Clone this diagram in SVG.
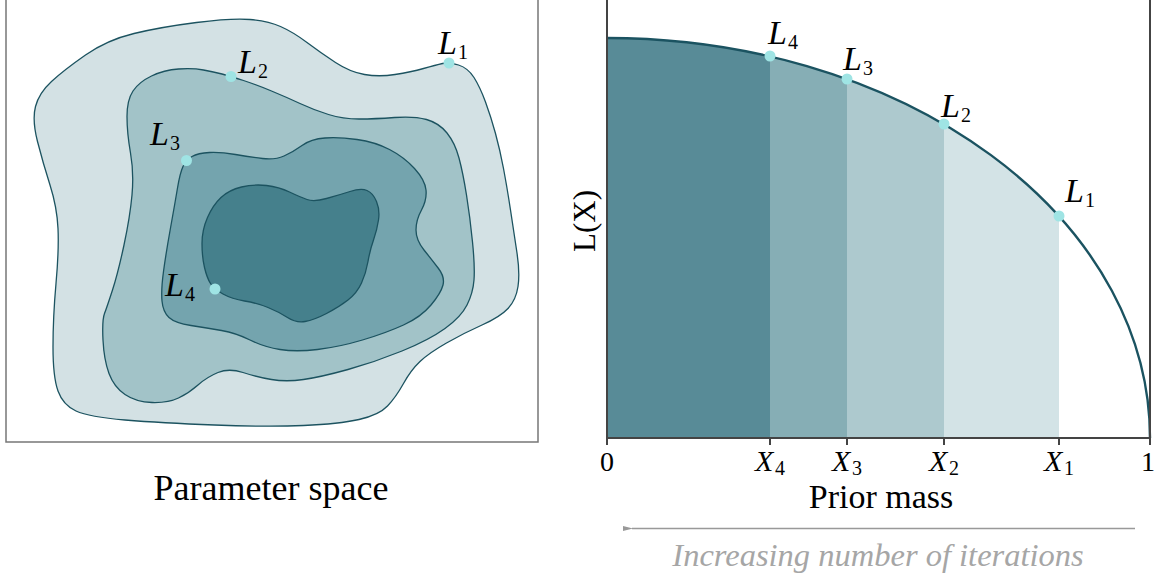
<svg xmlns="http://www.w3.org/2000/svg" width="1161" height="580" viewBox="0 0 1161 580">
<style>
.contour{stroke:#1c5360;stroke-width:1.3}
.dot{fill:#9fe4e4}
.lab{font-family:"Liberation Serif",serif;font-style:italic;font-size:34px;fill:#000}
.sub{font-family:"Liberation Serif",serif;font-size:20px;fill:#000}
.tick{font-family:"Liberation Serif",serif;font-size:28px;fill:#000}
.tickI{font-family:"Liberation Serif",serif;font-style:italic;font-size:30px;fill:#000}
.tsub{font-family:"Liberation Serif",serif;font-size:20px;fill:#000}
.title{font-family:"Liberation Serif",serif;font-size:34px;fill:#000}
.axis{stroke:#444;stroke-width:2;fill:none}
</style>
<defs>
<clipPath id="under">
<path d="M607 438 L607 38 A543 400 0 0 1 1150 438 Z"/>
</clipPath>
<marker id="arr" viewBox="0 0 10 10" refX="1" refY="5" markerWidth="10" markerHeight="10" markerUnits="userSpaceOnUse" orient="auto">
<path d="M10 2.5 L0 5 L10 7.5 Z" fill="#999"/>
</marker>
</defs>

<g id="parameter-space">
<path d="M6 0 L6 442 L538 442 L538 0" fill="none" stroke="#777" stroke-width="1.5"/>
<path id="contour-L1" class="contour" fill="#d3e1e4" d="M442.5 63.5 Q449 62 458.5 65 Q468 68 474 77.5 Q480 87 485.5 102 Q491 117 495.5 133.5 Q500 150 503.5 168.5 Q507 187 510.5 210 Q514 233 517 253 Q520 273 518 286.5 Q516 300 508 308.5 Q500 317 482 325 Q464 333 446.5 343 Q429 353 420 361.5 Q411 370 403.5 383.5 Q396 397 387.5 406 Q379 415 359 419.5 Q339 424 303.5 425.5 Q268 427 214.5 425 Q161 423 125 420 Q89 417 76 411 Q63 405 58 391 Q53 377 53 347 Q53 317 56 283.5 Q59 250 58 228.5 Q57 207 50 185 Q43 163 37.5 141.5 Q32 120 35.5 106.5 Q39 93 51.5 81.5 Q64 70 85.5 55 Q107 40 134 33.5 Q161 27 196.5 22.5 Q232 18 250 19.5 Q268 21 280.5 26.5 Q293 32 307 42.5 Q321 53 335.5 62.5 Q350 72 364.5 74.5 Q379 77 395 74.5 Q411 72 423.5 68.5 Q436 65 442.5 63.5 Z"/>
<path id="contour-L2" class="contour" fill="#a2c3c8" d="M222 74 Q230 76 243.5 80.5 Q257 85 271.5 91 Q286 97 300 103.5 Q314 110 328.5 114.5 Q343 119 359 119 Q375 119 394.5 117.5 Q414 116 426.5 119.5 Q439 123 447 133 Q455 143 459 158 Q463 173 466.5 195 Q470 217 472.5 242 Q475 267 474 280 Q473 293 467 305 Q461 317 445 328.5 Q429 340 402 351 Q375 362 348 369.5 Q321 377 303.5 379.5 Q286 382 271.5 379.5 Q257 377 243 372.5 Q229 368 218 372.5 Q207 377 198 385 Q189 393 178.5 398 Q168 403 152 402.5 Q136 402 125 394.5 Q114 387 109 373.5 Q104 360 103 340 Q102 320 104.5 313.5 Q107 307 112.5 290 Q118 273 124 245 Q130 217 132 195 Q134 173 130.5 153 Q127 133 127 116.5 Q127 100 133 91 Q139 82 151.5 76 Q164 70 178.5 69 Q193 68 203.5 70 Q214 72 222 74 Z"/>
<path id="contour-L3" class="contour" fill="#74a4ae" d="M183 166.5 Q186 160 192 156.5 Q198 153 209.5 152.5 Q221 152 235.5 154.5 Q250 157 262.5 158.5 Q275 160 284 156 Q293 152 302 145.5 Q311 139 325 138 Q339 137 357 139.5 Q375 142 389.5 149.5 Q404 157 414.5 168.5 Q425 180 426 190 Q427 200 421.5 210 Q416 220 416 230 Q416 240 424 250 Q432 260 438.5 268.5 Q445 277 443 285 Q441 293 431 305 Q421 317 403.5 325 Q386 333 362.5 340 Q339 347 317.5 349.5 Q296 352 280 349.5 Q264 347 250 340 Q236 333 221.5 330.5 Q207 328 191 325.5 Q175 323 169 317.5 Q163 312 162 301 Q161 290 163.5 271.5 Q166 253 170.5 228 Q175 203 177.5 188 Q180 173 183 166.5 Z"/>
<path id="contour-L4" class="contour" fill="#45808c" d="M210.5 283.5 Q214 289 223 294 Q232 299 244.5 301 Q257 303 268 307.5 Q279 312 287.5 317.5 Q296 323 305 321.5 Q314 320 326.5 313.5 Q339 307 348 300 Q357 293 361.5 283 Q366 273 368 261.5 Q370 250 373.5 240 Q377 230 378.5 220 Q380 210 376.5 201.5 Q373 193 367 190.5 Q361 188 350 191.5 Q339 195 326.5 198.5 Q314 202 307 199.5 Q300 197 289.5 192 Q279 187 266.5 185.5 Q254 184 241.5 187 Q229 190 221 197.5 Q213 205 207.5 217.5 Q202 230 202 243.5 Q202 257 204.5 267.5 Q207 278 210.5 283.5 Z"/>
<circle class="dot" cx="449" cy="63" r="5.5"/>
<circle class="dot" cx="231" cy="76.5" r="5.5"/>
<circle class="dot" cx="186.5" cy="160.5" r="5.5"/>
<circle class="dot" cx="215" cy="289" r="5.5"/>
<text class="lab" x="438" y="54">L</text><text class="sub" x="458" y="59">1</text>
<text class="lab" x="238" y="73">L</text><text class="sub" x="258" y="78">2</text>
<text class="lab" x="150" y="145">L</text><text class="sub" x="170" y="150">3</text>
<text class="lab" x="165" y="296">L</text><text class="sub" x="185" y="301">4</text>
<text class="title" x="271" y="500" text-anchor="middle" style="font-size:36px">Parameter space</text>
</g>

<g id="prior-mass-plot">
<g clip-path="url(#under)">
<rect x="607" y="0" width="163" height="440" fill="#588b97"/>
<rect x="770" y="0" width="77" height="440" fill="#86aeb5"/>
<rect x="847" y="0" width="97" height="440" fill="#adc9ce"/>
<rect x="944" y="0" width="115" height="440" fill="#d3e3e6"/>
</g>
<path d="M607 38 A543 400 0 0 1 1150 438" fill="none" stroke="#1b5361" stroke-width="2.4"/>
<path class="axis" d="M607 0 L607 438 L1150 438 L1150 0"/>
<path class="axis" d="M607 438 v7 M770 438 v7 M847 438 v7 M944 438 v7 M1059 438 v7 M1150 438 v7"/>
<circle class="dot" cx="770" cy="56" r="5.5"/>
<circle class="dot" cx="847" cy="79" r="5.5"/>
<circle class="dot" cx="944" cy="124" r="5.5"/>
<circle class="dot" cx="1059" cy="216" r="5.5"/>
<text class="lab" x="768" y="44">L</text><text class="sub" x="788" y="49">4</text>
<text class="lab" x="843" y="70">L</text><text class="sub" x="863" y="75">3</text>
<text class="lab" x="941" y="117">L</text><text class="sub" x="961" y="122">2</text>
<text class="lab" x="1065" y="202">L</text><text class="sub" x="1085" y="207">1</text>
<text class="tick" x="607" y="471" text-anchor="middle">0</text>
<text class="tickI" x="755" y="471">X</text><text class="tsub" x="775" y="475">4</text>
<text class="tickI" x="832" y="471">X</text><text class="tsub" x="852" y="475">3</text>
<text class="tickI" x="929" y="471">X</text><text class="tsub" x="949" y="475">2</text>
<text class="tickI" x="1044" y="471">X</text><text class="tsub" x="1064" y="475">1</text>
<text class="tick" x="1148" y="471" text-anchor="middle">1</text>
<text class="title" x="881" y="508" text-anchor="middle">Prior mass</text>
<text class="title" transform="translate(595 221) rotate(-90)" text-anchor="middle" style="font-size:31px">L(X)</text>
</g>

<g id="connectors">
<line x1="1135" y1="528.5" x2="632" y2="528.5" stroke="#999" stroke-width="1.5" marker-end="url(#arr)"/>
</g>
<text x="878" y="566" text-anchor="middle" font-family="Liberation Serif, serif" font-style="italic" font-size="32.5" fill="#a6a6a6">Increasing number of iterations</text>
</svg>
